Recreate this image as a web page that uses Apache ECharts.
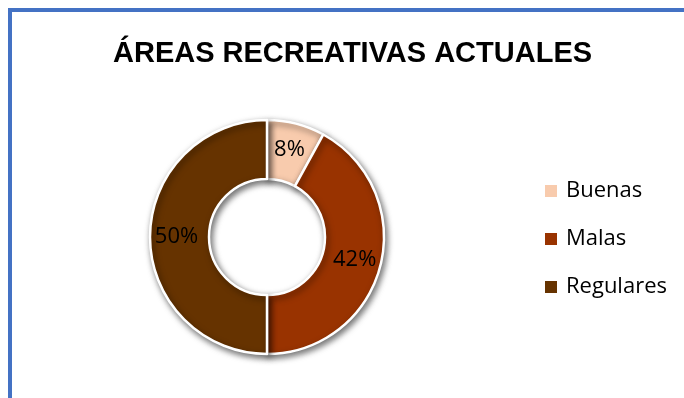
<!DOCTYPE html>
<html>
<head>
<meta charset="utf-8">
<script src="https://cdn.jsdelivr.net/npm/echarts@6/dist/echarts.min.js"></script>
<style>
html,body{margin:0;padding:0;background:#fff;}
#chart{width:684px;height:398px;}
</style>
</head>
<body>
<div id="chart"></div>
<script>
const titleText = 'ÁREAS RECREATIVAS ACTUALES';
const categories = ['Buenas', 'Malas', 'Regulares'];
const values = [8, 42, 50];
const colors = ['#F8CBAD', '#993300', '#663300'];

const chart = echarts.init(document.getElementById('chart'), null, {renderer: 'canvas'});
const lblFont = '"Open Sans", "Noto Sans", sans-serif';

chart.setOption({
  animation: false,
  backgroundColor: '#ffffff',
  title: {
    text: titleText,
    left: 108,
    top: 34,
    textStyle: {
      fontFamily: '"Liberation Sans", Arial, sans-serif',
      fontWeight: 'bold',
      fontSize: 29,
      color: '#000000'
    }
  },
  graphic: [
    {type: 'rect', shape: {x: 8, y: 8, width: 676, height: 4}, style: {fill: '#4472C4'}, z: 100},
    {type: 'rect', shape: {x: 8, y: 8, width: 4, height: 390}, style: {fill: '#4472C4'}, z: 100}
  ],
  legend: {
    orient: 'vertical',
    left: 538,
    top: 175,
    itemWidth: 14,
    itemHeight: 14,
    itemGap: 26,
    icon: 'rect',
    data: categories,
    textStyle: {
      fontFamily: lblFont,
      fontSize: 22,
      color: '#000000',
      padding: [0, 0, 0, 3]
    }
  },
  series: [{
    type: 'pie',
    center: [267, 237],
    radius: [58, 117],
    startAngle: 90,
    clockwise: true,
    avoidLabelOverlap: false,
    itemStyle: {
      borderColor: '#ffffff',
      borderWidth: 2.5,
      shadowBlur: 6,
      shadowOffsetX: 2,
      shadowOffsetY: 3,
      shadowColor: 'rgba(0,0,0,0.55)'
    },
    label: {
      show: true,
      position: 'inside',
      fontFamily: lblFont,
      fontSize: 22,
      color: '#000000',
      formatter: function (p) { return p.value + '%'; }
    },
    labelLine: {show: false},
    emphasis: {disabled: true},
    data: categories.map(function (c, i) {
      return {name: c, value: values[i], itemStyle: {color: colors[i]}};
    })
  }]
});
</script>
</body>
</html>
